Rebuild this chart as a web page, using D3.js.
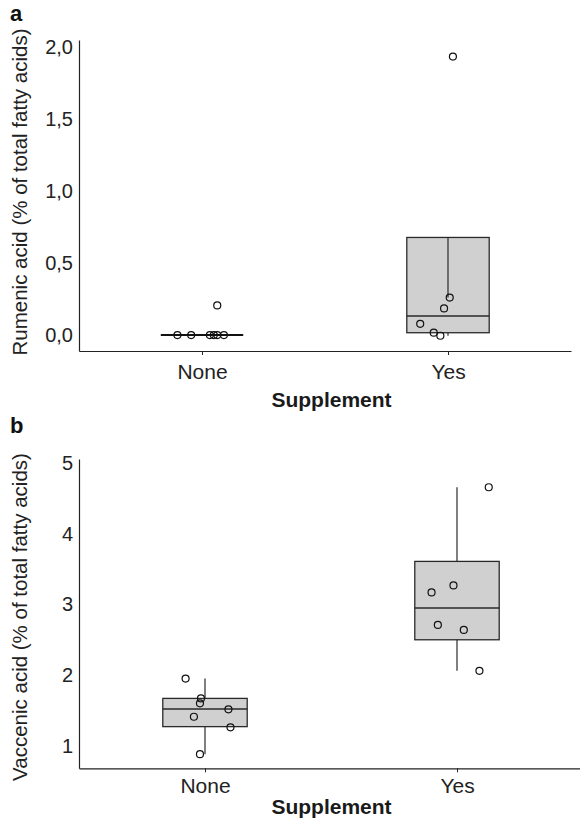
<!DOCTYPE html>
<html>
<head>
<meta charset="utf-8">
<script src="https://cdn.jsdelivr.net/npm/d3@7"></script>
<style>
  html, body { margin: 0; padding: 0; background: #fff; }
  svg { display: block; font-family: "Liberation Sans", Arial, Helvetica, sans-serif; }
</style>
</head>
<body>
<svg id="chart" width="580" height="822"></svg>
<script>
// ---------- DATA ----------
const categories = ["None", "Yes"];

// Panel a: Rumenic acid
const rumenicTicks = [0, 0.5, 1.0, 1.5, 2.0];
const rumenicNone = [0, 0, 0, 0, 0, 0, 0.206];
const rumenicNoneJitter = [-0.10, -0.044, 0.032, 0.048, 0.062, 0.089, 0.062];
const rumenicYes = [1.935, 0.26, 0.185, 0.078, 0.016, -0.005];
const rumenicYesJitter = [0.020, 0.007, -0.016, -0.113, -0.058, -0.031];
// box stats: [q1, median, q3, lowerWhisker, upperWhisker]
const rumenicBoxNone = [0, 0, 0, 0, 0];
const rumenicBoxYes = [0.016, 0.132, 0.678, -0.005, 0.26];

// Panel b: Vaccenic acid
const vaccenicTicks = [1, 2, 3, 4, 5];
const vaccenicNone = [1.95, 1.67, 1.60, 1.41, 1.515, 1.26, 0.88];
const vaccenicNoneJitter = [-0.077, -0.016, -0.020, -0.044, 0.093, 0.101, -0.020];
const vaccenicYes = [4.66, 3.27, 3.17, 2.71, 2.64, 2.06];
const vaccenicYesJitter = [0.126, -0.014, -0.101, -0.076, 0.027, 0.089];
const vaccenicBoxNone = [1.27, 1.52, 1.67, 0.88, 1.95];
const vaccenicBoxYes = [2.50, 2.95, 3.61, 2.06, 4.66];

// ---------- DRAW ----------
const svg = d3.select("#chart");
const commaLocale = d3.formatLocale({decimal: ",", thousands: ".", grouping: [3], currency: ["", ""]});

function panel(cfg) {
  const g = svg.append("g");
  const x = d3.scalePoint().domain(categories).range(cfg.xRange).padding(0.5);
  const y = d3.scaleLinear().domain(cfg.yDomain).range(cfg.yRange);
  const step = x.step();
  const boxW = step * 0.335;

  // y axis
  const ya = g.append("g").attr("transform", `translate(${cfg.xRange[0]},0)`)
    .call(d3.axisLeft(y).tickValues(cfg.ticks).tickSize(0).tickPadding(6).tickFormat(cfg.fmt));
  ya.select(".domain").attr("stroke", "#222").attr("stroke-width", 1.2);
  ya.selectAll("text").attr("font-size", 20).attr("fill", "#222").attr("font-family", null);

  // x axis
  const xa = g.append("g").attr("transform", `translate(0,${cfg.yRange[0]})`)
    .call(d3.axisBottom(x).tickSizeInner(4).tickSizeOuter(0).tickPadding(cfg.xPad));
  xa.select(".domain").attr("stroke", "#222").attr("stroke-width", 1.2);
  xa.selectAll(".tick line").attr("stroke", "#222");
  xa.selectAll("text").attr("font-size", 21).attr("fill", "#222").attr("font-family", null);

  // boxes
  cfg.boxes.forEach((b, i) => {
    const cx = x(categories[i]);
    const [q1, med, q3, wlo, whi] = b;
    if (q3 - q1 > 0) {
      g.append("rect")
        .attr("x", cx - boxW / 2).attr("y", y(q3))
        .attr("width", boxW).attr("height", y(q1) - y(q3))
        .attr("fill", "#cfd0cf").attr("stroke", "#2a2a2a").attr("stroke-width", 1.3);
      g.append("line").attr("x1", cx - boxW / 2).attr("x2", cx + boxW / 2)
        .attr("y1", y(med)).attr("y2", y(med))
        .attr("stroke", "#2a2a2a").attr("stroke-width", 1.5);
      g.append("line").attr("x1", cx).attr("x2", cx).attr("y1", y(q3)).attr("y2", y(whi))
        .attr("stroke", "#2a2a2a").attr("stroke-width", 1.2);
      g.append("line").attr("x1", cx).attr("x2", cx).attr("y1", y(q1)).attr("y2", y(wlo))
        .attr("stroke", "#2a2a2a").attr("stroke-width", 1.2);
    } else {
      g.append("line").attr("x1", cx - boxW / 2).attr("x2", cx + boxW / 2)
        .attr("y1", y(med)).attr("y2", y(med))
        .attr("stroke", "#111").attr("stroke-width", 2);
    }
  });

  // points
  cfg.points.forEach((pts, i) => {
    const cx = x(categories[i]);
    g.selectAll(null).data(pts).enter().append("circle")
      .attr("cx", (d, j) => cx + cfg.jitter[i][j] * step)
      .attr("cy", d => y(d))
      .attr("r", 3.5)
      .attr("fill", "none").attr("stroke", "#111").attr("stroke-width", 1.2);
  });

  // labels
  g.append("text").attr("x", 10).attr("y", cfg.letterY)
    .attr("font-size", 22).attr("font-weight", "bold").attr("fill", "#111").text(cfg.letter);
  g.append("text")
    .attr("transform", `translate(27,${cfg.titleY}) rotate(-90)`)
    .attr("text-anchor", "middle").attr("font-size", 20.5).attr("fill", "#222")
    .text(cfg.title);
  g.append("text").attr("x", 331.5).attr("y", cfg.xTitleY)
    .attr("text-anchor", "middle").attr("font-size", 21).attr("font-weight", "bold").attr("fill", "#1a1a1a")
    .text("Supplement");
}

panel({
  xRange: [79, 571], yDomain: [-0.111, 2.05], yRange: [351, 40],
  ticks: rumenicTicks, fmt: commaLocale.format(".1f"), xPad: 9,
  boxes: [rumenicBoxNone, rumenicBoxYes],
  points: [rumenicNone, rumenicYes],
  jitter: [rumenicNoneJitter, rumenicYesJitter],
  letter: "a", letterY: 21, title: "Rumenic acid (% of total fatty acids)", titleY: 192,
  xTitleY: 407
});

panel({
  xRange: [79, 583], yDomain: [0.68, 5.06], yRange: [768.3, 459],
  ticks: vaccenicTicks, fmt: d3.format("d"), xPad: 6,
  boxes: [vaccenicBoxNone, vaccenicBoxYes],
  points: [vaccenicNone, vaccenicYes],
  jitter: [vaccenicNoneJitter, vaccenicYesJitter],
  letter: "b", letterY: 433, title: "Vaccenic acid (% of total fatty acids)", titleY: 617,
  xTitleY: 814
});
</script>
</body>
</html>
